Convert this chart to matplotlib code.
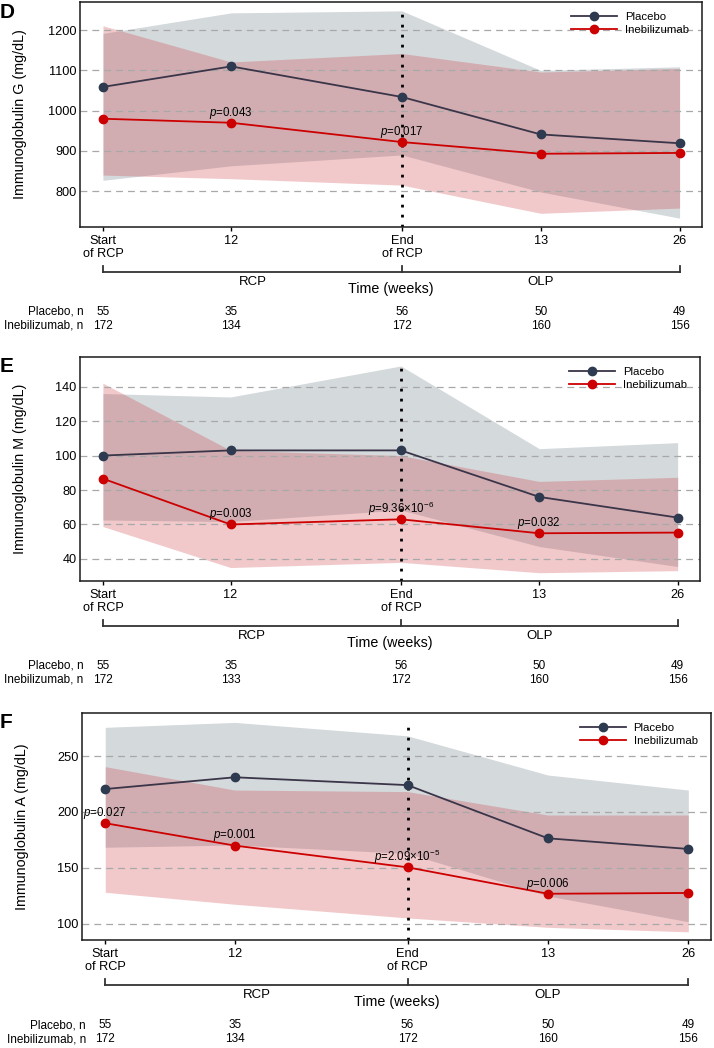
import numpy as np
import matplotlib
matplotlib.use('Agg')
import matplotlib.pyplot as plt
import matplotlib.transforms as mtransforms

plt.rcParams['font.family'] = ['Liberation Sans', 'DejaVu Sans']
plt.rcParams['mathtext.fontset'] = 'custom'
plt.rcParams['mathtext.rm'] = 'Liberation Sans'
plt.rcParams['mathtext.it'] = 'Liberation Sans:italic'

FIG_W, FIG_H = 714, 1048

# time points (weeks from start of RCP; end of RCP ~ week 28)
weeks = [0, 12, 28, 41, 54]
tick_labels = ['Start\nof RCP', '12', 'End\nof RCP', '13', '26']

# Immunoglobulin G
igg_placebo = [1059, 1110, 1034, 941, 919]
igg_placebo_lo = [827, 863, 890, 798, 733]
igg_placebo_hi = [1192, 1243, 1248, 1100, 1109]
igg_ineb = [980, 970, 922, 893, 895]
igg_ineb_lo = [840, 831, 815, 745, 758]
igg_ineb_hi = [1211, 1121, 1142, 1096, 1105]
igg_p = [(1, r'$p$=0.043'), (2, r'$p$=0.017')]
igg_n_placebo = [55, 35, 56, 50, 49]
igg_n_ineb = [172, 134, 172, 160, 156]

# Immunoglobulin M
igm_placebo = [100, 103, 103, 76, 64]
igm_placebo_lo = [62.6, 61.7, 68.4, 47.2, 35.6]
igm_placebo_hi = [136, 134, 152, 104, 107.5]
igm_ineb = [86.6, 60, 63, 54.9, 55.3]
igm_ineb_lo = [58.8, 35, 38, 32, 33.2]
igm_ineb_hi = [142, 103, 100, 85, 87.4]
igm_p = [(1, r'$p$=0.003'), (2, r'$p$=9.36×10$^{-6}$'), (3, r'$p$=0.032')]
igm_n_placebo = [55, 35, 56, 50, 49]
igm_n_ineb = [172, 133, 172, 160, 156]

# Immunoglobulin A
iga_placebo = [220.5, 231, 224, 176.5, 167]
iga_placebo_lo = [168.5, 170.5, 163, 125, 102]
iga_placebo_hi = [275.6, 280, 268, 233, 219.6]
iga_ineb = [190, 170, 150.6, 127, 127.7]
iga_ineb_lo = [128.3, 117.6, 105.4, 97, 93]
iga_ineb_hi = [240.5, 219.6, 218.2, 197.3, 197.3]
iga_p = [(0, r'$p$=0.027'), (1, r'$p$=0.001'), (2, r'$p$=2.09×10$^{-5}$'), (3, r'$p$=0.006')]
iga_n_placebo = [55, 35, 56, 50, 49]
iga_n_ineb = [172, 134, 172, 160, 156]

PLACEBO_LINE = '#3a3548'
PLACEBO_MARK = '#2e3a4f'
RED = '#cc0000'
GRAY_FILL = '#d4d9dc'
RED_FILL = '#cb2b33'


def draw_panel(fig, rect, letter, ylabel, ylim, yticks,
               placebo, placebo_lo, placebo_hi, ineb, ineb_lo, ineb_hi,
               pvals, n_placebo, n_ineb):
    ax = fig.add_axes(rect)
    h = rect[3] * FIG_H

    ax.fill_between(weeks, placebo_lo, placebo_hi, color=GRAY_FILL, lw=0, zorder=1)
    ax.fill_between(weeks, ineb_lo, ineb_hi, color=RED_FILL, alpha=0.25, lw=0, zorder=1.1)
    for yv in yticks:
        ax.axhline(yv, color='#a8a8a8', lw=0.9, ls=(0, (5.5, 4)), zorder=1.5)
    ax.axvline(weeks[2], ymin=0, ymax=0.95, color='black', lw=2,
               ls=(0, (1, 2.6)), zorder=2)

    ax.plot(weeks, placebo, color=PLACEBO_LINE, lw=1.3, marker='o', ms=6,
            mfc=PLACEBO_MARK, mec=PLACEBO_MARK, label='Placebo', zorder=3)
    ax.plot(weeks, ineb, color=RED, lw=1.3, marker='o', ms=6,
            mfc=RED, mec=RED, label='Inebilizumab', zorder=3.1)

    for i, txt in pvals:
        ax.annotate(txt, (weeks[i], ineb[i]), xytext=(0, 7.3),
                    textcoords='offset points', ha='center', va='center',
                    fontsize=8.3, zorder=4)

    ax.set_xlim(-2.15, 56.1)
    ax.set_ylim(*ylim)
    ax.set_xticks(weeks)
    ax.set_xticklabels(tick_labels, linespacing=1.1)
    ax.set_yticks(yticks)
    ax.tick_params(axis='x', length=3, width=1, pad=2.5, labelsize=9.2)
    ax.tick_params(axis='y', length=0, pad=2.5, labelsize=9.2)
    for s in ax.spines.values():
        s.set_linewidth(1.1)
        s.set_color('#1a1a1a')

    ax.set_ylabel(ylabel, fontsize=10.3)
    ax.yaxis.set_label_coords(-53 / (rect[2] * FIG_W), 0.5)

    ax.legend(loc='upper right', bbox_to_anchor=(0.995, 1), frameon=False,
              fontsize=8.2, handlelength=4, handletextpad=0.7,
              labelspacing=0.2, borderaxespad=0.5)

    # bracket below axis: RCP / OLP
    trans = mtransforms.blended_transform_factory(ax.transData, ax.transAxes)
    yb = -45 / h
    ax.plot([weeks[0], weeks[-1]], [yb, yb], transform=trans, clip_on=False,
            color='#333333', lw=1.3)
    for i in (0, 2, 4):
        ax.plot([weeks[i], weeks[i]], [yb, yb + 6 / h], transform=trans,
                clip_on=False, color='#333333', lw=1.3)
    ax.text((weeks[0] + weeks[2]) / 2, -55 / h, 'RCP', transform=trans,
            ha='center', va='center', fontsize=9.5)
    ax.text((weeks[2] + weeks[4]) / 2, -55 / h, 'OLP', transform=trans,
            ha='center', va='center', fontsize=9.5)
    ax.text(0.5, -62 / h, 'Time (weeks)', transform=ax.transAxes,
            ha='center', va='center', fontsize=10.3)

    # numbers at risk
    ax.text(-1.8, -85 / h, 'Placebo, n', transform=trans, ha='right',
            va='center', fontsize=8.5)
    ax.text(-1.8, -99 / h, 'Inebilizumab, n', transform=trans, ha='right',
            va='center', fontsize=8.5)
    for x, a, b in zip(weeks, n_placebo, n_ineb):
        ax.text(x, -85 / h, str(a), transform=trans, ha='center',
                va='center', fontsize=8.5)
        ax.text(x, -99 / h, str(b), transform=trans, ha='center',
                va='center', fontsize=8.5)

    top_px = (1 - rect[1] - rect[3]) * FIG_H
    fig.text(0.0, 1 - (top_px + 10) / FIG_H, letter, fontsize=15,
             fontweight='bold', ha='left', va='center')
    return ax


fig = plt.figure(figsize=(FIG_W / 100, FIG_H / 100), dpi=100)

draw_panel(fig, [80 / FIG_W, 1 - 227 / FIG_H, 622 / FIG_W, 225 / FIG_H],
           'D', 'Immunoglobulin G (mg/dL)', (711, 1270),
           [800, 900, 1000, 1100, 1200],
           igg_placebo, igg_placebo_lo, igg_placebo_hi,
           igg_ineb, igg_ineb_lo, igg_ineb_hi,
           igg_p, igg_n_placebo, igg_n_ineb)

draw_panel(fig, [80 / FIG_W, 1 - 581 / FIG_H, 620 / FIG_W, 224 / FIG_H],
           'E', 'Immunoglobulin M (mg/dL)', (27.2, 157.2),
           [40, 60, 80, 100, 120, 140],
           igm_placebo, igm_placebo_lo, igm_placebo_hi,
           igm_ineb, igm_ineb_lo, igm_ineb_hi,
           igm_p, igm_n_placebo, igm_n_ineb)

draw_panel(fig, [82 / FIG_W, 1 - 940 / FIG_H, 629 / FIG_W, 227 / FIG_H],
           'F', 'Immunoglobulin A (mg/dL)', (85.7, 288.4),
           [100, 150, 200, 250],
           iga_placebo, iga_placebo_lo, iga_placebo_hi,
           iga_ineb, iga_ineb_lo, iga_ineb_hi,
           iga_p, iga_n_placebo, iga_n_ineb)

fig.savefig('out.png', dpi=100)
